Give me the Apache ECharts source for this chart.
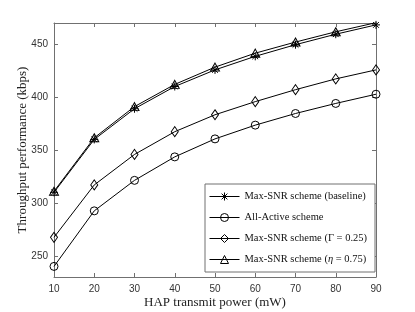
<!DOCTYPE html>
<html>
<head>
<meta charset="utf-8">
<script src="https://cdn.jsdelivr.net/npm/echarts@6/dist/echarts.min.js"></script>
<style>html,body{margin:0;padding:0;background:#fff;}#c{width:415px;height:312px;}</style>
</head>
<body>
<div id="c"></div>
<script>
var power = [10, 20, 30, 40, 50, 60, 70, 80, 90];
var baseline = [310, 360, 389, 410, 425.7, 438.5, 449.5, 459.4, 468.2];
var allActive = [240, 292.5, 321.3, 343.5, 360.5, 373.5, 384.5, 394, 402.7];
var gamma025 = [267.5, 317, 345.8, 367.3, 383.3, 395.7, 407, 417.2, 425.7];
var eta075 = [311, 361.5, 391, 412, 428.3, 441.5, 452, 461.7, 470.3];
var yTicks = [250, 300, 350, 400, 450];
var xTicks = [10, 20, 30, 40, 50, 60, 70, 80, 90];
var names = ['Max-SNR scheme (baseline)', 'All-Active scheme', 'Max-SNR scheme (\u0393 = 0.25)', 'Max-SNR scheme (\u03b7 = 0.75)'];

function pairs(ys) { return power.map(function (x, i) { return [x, ys[i]]; }); }

var axisCol = '#707070';
var serif = '"Liberation Serif", "DejaVu Serif", serif';
var sans = '"Liberation Sans", Arial, sans-serif';
var star = 'path://M0,-5L0,5M-5,0L5,0M-3.6,-3.6L3.6,3.6M-3.6,3.6L3.6,-3.6';

function mkSeries(name, ys, symbol, size, z) {
  return {
    name: name, type: 'line', data: pairs(ys), symbol: symbol, symbolSize: size,
    z: z, animation: false,
    lineStyle: { color: '#000', width: 1 },
    itemStyle: { color: 'rgba(0,0,0,0)', borderColor: '#000', borderWidth: 1 }
  };
}

var chart = echarts.init(document.getElementById('c'), null, { renderer: 'canvas' });
var commonX = {
  type: 'value', min: 10, max: 90, interval: 10,
  axisLine: { show: true, lineStyle: { color: axisCol, width: 1 } },
  axisTick: { show: true, inside: true, length: 4, lineStyle: { color: axisCol } },
  splitLine: { show: false }
};
var commonY = {
  type: 'value', min: 230, max: 470,
  axisLine: { show: true, lineStyle: { color: axisCol, width: 1 } },
  axisTick: { show: true, inside: true, length: 4, customValues: yTicks, lineStyle: { color: axisCol } },
  splitLine: { show: false }
};
chart.setOption({
  backgroundColor: '#fff',
  animation: false,
  grid: { left: 54, right: 39, top: 23, bottom: 35, outerBoundsMode: 'none' },
  xAxis: [
    Object.assign({}, commonX, {
      position: 'bottom',
      name: 'HAP transmit power (mW)', nameLocation: 'middle', nameGap: 19, nameMoveOverlap: false,
      nameTextStyle: { fontFamily: serif, fontSize: 13, color: '#222' },
      axisLabel: { show: true, fontFamily: sans, fontSize: 10, color: '#333', margin: 7 }
    }),
    Object.assign({}, commonX, { position: 'top', axisLabel: { show: false } })
  ],
  yAxis: [
    Object.assign({}, commonY, {
      position: 'left',
      name: 'Throughput performance (kbps)', nameLocation: 'middle', nameGap: 25, nameMoveOverlap: false,
      nameTextStyle: { fontFamily: serif, fontSize: 13, color: '#222' },
      axisLabel: { show: true, customValues: yTicks, fontFamily: sans, fontSize: 10, color: '#333', margin: 6 }
    }),
    Object.assign({}, commonY, { position: 'right', axisLabel: { show: false } })
  ],
  legend: {
    orient: 'vertical', left: 205, top: 184,
    backgroundColor: '#fff', borderColor: axisCol, borderWidth: 1,
    padding: [7, 8, 7, 4], itemGap: 10, itemWidth: 30, itemHeight: 10,
    lineStyle: { width: 1, color: '#000' },
    itemStyle: { color: 'rgba(0,0,0,0)', borderColor: '#000', borderWidth: 1 },
    data: names,
    textStyle: {
      fontFamily: serif, fontSize: 10.5, color: '#111',
      rich: {
        n: { fontFamily: serif, fontSize: 10.5, color: '#111' },
        i: { fontFamily: serif, fontSize: 10.5, fontStyle: 'italic', color: '#111' }
      }
    },
    formatter: function (n) {
      if (n.indexOf('\u03b7') >= 0) return '{n|Max-SNR scheme (}{i|\u03b7}{n| = 0.75)}';
      return n;
    }
  },
  series: [
    mkSeries(names[0], baseline, star, 8, 4),
    mkSeries(names[1], allActive, 'circle', 8, 3),
    mkSeries(names[2], gamma025, 'diamond', [7, 10], 3),
    mkSeries(names[3], eta075, 'triangle', [9, 8], 5)
  ]
});
</script>
</body>
</html>
